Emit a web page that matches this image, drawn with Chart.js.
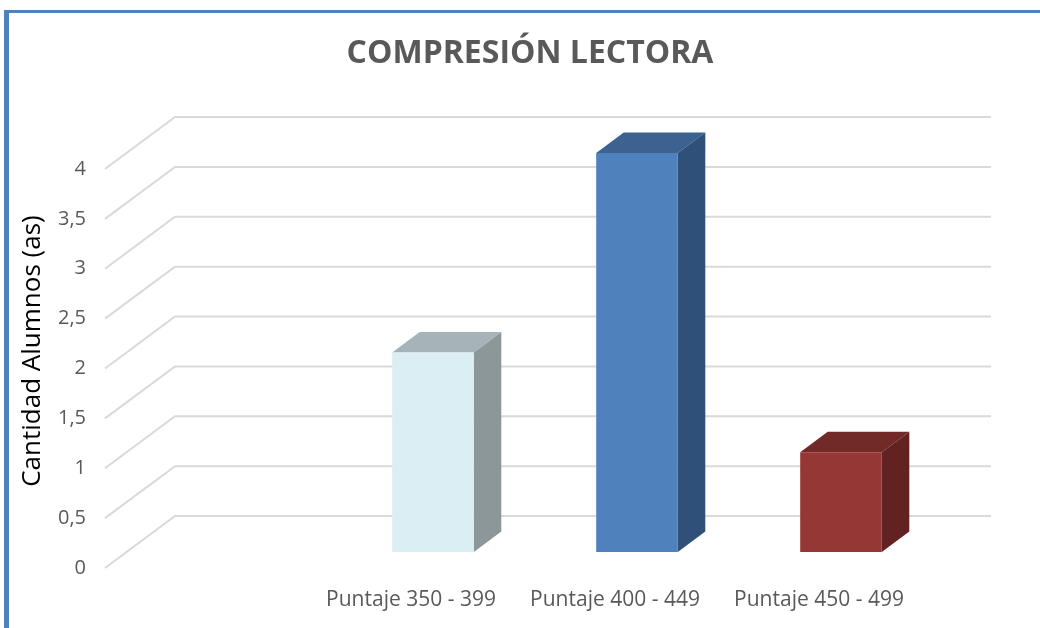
<!DOCTYPE html>
<html>
<head>
<meta charset="utf-8">
<script src="https://cdn.jsdelivr.net/npm/chart.js@4/dist/chart.umd.min.js"></script>
<style>
  html, body { margin: 0; padding: 0; background: #fff; }
  #wrap { width: 1040px; height: 628px; }
</style>
</head>
<body>
<div id="wrap"><canvas id="myChart" width="1040" height="628"></canvas></div>
<script>
const chartTitle = 'COMPRESIÓN LECTORA';
const yTitle = 'Cantidad Alumnos (as)';

// first category is empty in the original sheet
const categories = ['', 'Puntaje 350 - 399', 'Puntaje 400 - 449', 'Puntaje 450 - 499'];
const alumnos = [null, 2, 4, 1];

const frontColors = ['#dbeef3', '#dbeef3', '#4f81bd', '#953735'];
const topColors = ['#a6b3b8', '#a6b3b8', '#3c6290', '#722a29'];
const sideColors = ['#8c979a', '#8c979a', '#2f5078', '#632222'];

const textColor = '#595959';
const gridColor = '#d9d9d9';
const frameColor = 'rgb(79,129,189)';

// fake 3d: depth of the floor and where the bars sit in it
const depth = { x: 70, y: -52 };
const barShift = { x: 22, y: -16 };
const barDepth = { x: 27.5, y: -20.5 };

let poly = (ctx, pts, color) => {
    ctx.beginPath();
    ctx.moveTo(pts[0][0], pts[0][1]);
    pts.slice(1).forEach(p => ctx.lineTo(p[0], p[1]));
    ctx.closePath();
    ctx.fillStyle = color;
    ctx.fill();
};

const frame = {
    id: 'frame',
    beforeDraw(chart) {
        const ctx = chart.ctx;
        ctx.save();
        ctx.fillStyle = '#fff';
        ctx.fillRect(0, 0, chart.width, chart.height);
        ctx.fillStyle = frameColor;
        ctx.fillRect(4, 10, chart.width - 4, 3);
        ctx.fillRect(4, 10, 5, chart.height - 10);
        ctx.restore();
    },
    afterDraw(chart) {
        const ctx = chart.ctx;
        ctx.save();
        ctx.translate(33, 351);
        ctx.rotate(-Math.PI / 2);
        ctx.font = '26px "Open Sans"';
        ctx.fillStyle = '#000';
        ctx.textAlign = 'center';
        ctx.textBaseline = 'middle';
        ctx.fillText(yTitle, 0, 0);
        ctx.restore();
    }
};

const walls = {
    id: 'walls',
    beforeDatasetsDraw(chart) {
        const { ctx, chartArea: a, scales: { y } } = chart;
        ctx.save();
        ctx.strokeStyle = gridColor;
        ctx.lineWidth = 2;
        y.ticks.forEach(t => {
            const py = y.getPixelForValue(t.value);
            ctx.beginPath();
            ctx.moveTo(a.left, py);
            ctx.lineTo(a.left + depth.x, py + depth.y);
            ctx.lineTo(a.right + depth.x, py + depth.y);
            ctx.stroke();
        });
        ctx.restore();

        // bars are drawn a bit back into the floor; top and side faces first
        ctx.save();
        ctx.translate(barShift.x, barShift.y);
        chart.getDatasetMeta(0).data.forEach((bar, i) => {
            if (alumnos[i] == null) return;
            const { x, y: top, base, width } = bar.getProps(['x', 'y', 'base', 'width'], true);
            const l = x - width / 2, r = x + width / 2;
            const dx = barDepth.x, dy = barDepth.y;
            poly(ctx, [[l, top], [l + dx, top + dy], [r + dx, top + dy], [r, top]], topColors[i]);
            poly(ctx, [[r, top], [r + dx, top + dy], [r + dx, base + dy], [r, base]], sideColors[i]);
        });
    },
    afterDatasetsDraw(chart) {
        chart.ctx.restore();
    }
};

const data = {
    labels: categories,
    datasets: [{
        data: alumnos,
        backgroundColor: frontColors,
        borderWidth: 0,
        barPercentage: 1,
        categoryPercentage: 0.4,
        clip: false
    }]
};

const config = {
    type: 'bar',
    data: data,
    options: {
        responsive: false,
        animation: false,
        layout: { padding: { left: 20 } },
        plugins: {
            legend: { display: false },
            tooltip: { enabled: false },
            title: {
                display: true,
                text: chartTitle,
                color: textColor,
                font: { family: '"Open Sans"', size: 32, weight: 'bold', lineHeight: 1.2 },
                padding: { top: 35, bottom: 95.6 }
            }
        },
        scales: {
            x: {
                grid: { display: false, drawTicks: false },
                border: { display: false },
                ticks: { color: textColor, font: { family: '"Open Sans"', size: 21 }, padding: 19, maxRotation: 0 },
                afterFit: s => { s.height = 60; }
            },
            y: {
                min: 0,
                max: 4,
                grid: { display: false, drawTicks: false },
                border: { display: false },
                ticks: {
                    stepSize: 0.5,
                    color: textColor,
                    font: { family: '"Open Sans"', size: 20 },
                    padding: 19,
                    callback: v => String(v).replace('.', ',')
                },
                afterFit: s => { s.width = 85; }
            },
            // empty right axis, only keeps the room on the right of the floor
            y2: {
                position: 'right',
                grid: { display: false, drawTicks: false },
                border: { display: false },
                ticks: { display: false },
                afterFit: s => { s.width = 119; }
            }
        }
    },
    plugins: [frame, walls]
};

new Chart(document.getElementById('myChart'), config);
</script>
</body>
</html>
